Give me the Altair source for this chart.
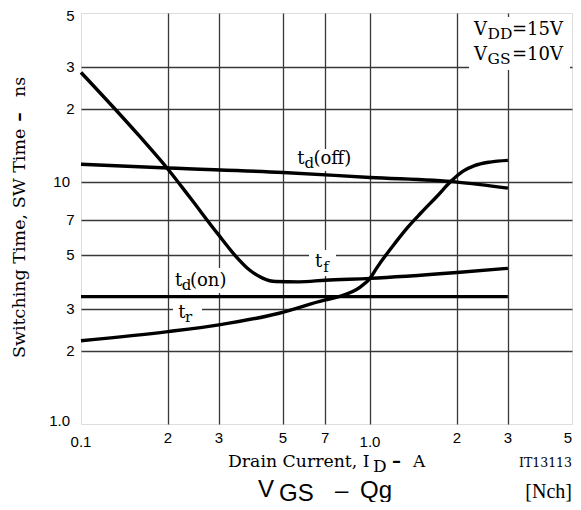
import altair as alt
import pandas as pd

# ---------------- data ----------------
id_tdoff = [0.1, 0.2, 0.5, 1.0, 2.0, 3.0]
t_tdoff = [11.85, 11.43, 10.96, 10.45, 10.0, 9.44]

id_tf = [0.1, 0.16, 0.2, 0.238, 0.297, 0.344, 0.382, 0.425, 0.472, 0.567, 0.7, 1.0, 2.0, 3.0]
t_tf = [28.4, 15.4, 11.3, 8.65, 6.12, 4.92, 4.34, 4.01, 3.88, 3.87, 3.93, 4.0, 4.23, 4.4]

id_tr = [0.1, 0.2, 0.3, 0.485, 0.7, 0.78, 0.925, 1.0, 1.06, 1.125, 1.22, 1.35, 1.5, 1.7,
         1.91, 2.1, 2.3, 2.6, 3.0]
t_tr = [2.21, 2.41, 2.57, 2.87, 3.26, 3.36, 3.68, 4.0, 4.45, 4.92, 5.59, 6.5, 7.45, 8.7,
        10.1, 11.1, 11.7, 12.1, 12.3]

id_tdon = [0.1, 3.0]
t_tdon = [3.36, 3.36]

x_grid = [0.2, 0.3, 0.5, 0.7, 1.0, 2.0, 3.0]
y_grid = [2, 3, 5, 7, 10, 20, 30]

x_tick_vals = [0.1, 0.2, 0.3, 0.5, 0.7, 1.0, 2.0, 3.0, 5.0]
x_tick_labels = ["0.1", "2", "3", "5", "7", "1.0", "2", "3", "5"]
y_tick_vals = [1, 2, 3, 5, 7, 10, 20, 30, 50]
y_tick_labels = ["1.0", "2", "3", "5", "7", "10", "2", "3", "5"]

# ---------------- layout constants ----------------
OX, OY = 81, 13          # page position of plot origin
W, H = 491, 411
SERIF = "DejaVu Serif"
TIMES = "Liberation Serif"
SANS = "Liberation Sans"

frames = []
for name, xs_, ys_ in [("td(off)", id_tdoff, t_tdoff), ("tf", id_tf, t_tf),
                       ("tr", id_tr, t_tr), ("td(on)", id_tdon, t_tdon)]:
    frames.append(pd.DataFrame({"id": xs_, "t": ys_, "series": name}))
df = pd.concat(frames, ignore_index=True)

xscale = alt.Scale(type="log", domain=[0.1, 5], nice=False)
yscale = alt.Scale(type="log", domain=[1, 50], nice=False)
xaxis = alt.Axis(values=x_grid, grid=True, labels=False, ticks=False, domain=False,
                 title=None, gridColor="#383838", gridWidth=1.3, gridOpacity=1)
yaxis = alt.Axis(values=y_grid, grid=True, labels=False, ticks=False, domain=False,
                 title=None, gridColor="#383838", gridWidth=1.3, gridOpacity=1)


def txt(s, px, py, size, font=SERIF, align="left", weight="normal", angle=0,
        baseline="alphabetic"):
    return alt.Chart(pd.DataFrame({"s": [s]})).mark_text(
        align=align, baseline=baseline, font=font, fontSize=size,
        fontWeight=weight, angle=angle, color="black"
    ).encode(x=alt.value(px - OX), y=alt.value(py - OY), text="s:N")


def box(x0, y0, x1, y1):
    return alt.Chart(pd.DataFrame({"a": [0]})).mark_rect(color="white").encode(
        x=alt.value(x0 - OX), x2=alt.value(x1 - OX),
        y=alt.value(y0 - OY), y2=alt.value(y1 - OY))


base_grid = alt.Chart(df).mark_line(opacity=0).encode(
    x=alt.X("id:Q", scale=xscale, axis=xaxis),
    y=alt.Y("t:Q", scale=yscale, axis=yaxis),
    detail="series:N")

boxes = [
    box(294, 149, 355, 171),   # td(off)
    box(172, 268, 231, 293),   # td(on)
    box(309, 250, 336, 276),   # tf
    box(173, 302, 202, 325),   # tr
    box(469, 17, 570, 70),     # conditions
]

curves = alt.Chart(df).mark_line(color="black", strokeWidth=3.4,
                                 interpolate="monotone", strokeCap="butt").encode(
    x=alt.X("id:Q", scale=xscale, axis=xaxis),
    y=alt.Y("t:Q", scale=yscale, axis=yaxis),
    detail="series:N")

# tick labels
xt = pd.DataFrame({"v": x_tick_vals, "lab": x_tick_labels})
xt_dec = xt[xt["lab"].str.contains(r"\.")]
xt_int = xt[~xt["lab"].str.contains(r"\.") & (xt["v"] < 5)]
xt_end = xt[xt["v"] >= 5]


def xlabels(d, py, align="center"):
    return alt.Chart(d).mark_text(font=SANS, fontSize=15, align=align,
                                  baseline="alphabetic", color="black").encode(
        x=alt.X("v:Q", scale=xscale, axis=xaxis), y=alt.value(py - OY), text="lab:N")


yt = pd.DataFrame({"v": y_tick_vals, "lab": y_tick_labels})


def ylabels(d, px, dy=0):
    return alt.Chart(d).mark_text(font=SANS, fontSize=15, align="right",
                                  baseline="middle", dy=dy, color="black").encode(
        y=alt.Y("v:Q", scale=yscale, axis=yaxis), x=alt.value(px - OX), text="lab:N")


tick_layers = [
    xlabels(xt_int, 442.5),
    xlabels(xt_dec, 446.5),
    xlabels(xt_end, 442.5, align="right"),
    ylabels(yt[(yt["lab"].str.len() == 1) & (yt["v"] < 50)], 74.5),
    ylabels(yt[yt["v"] >= 50], 74.5, dy=3),
    ylabels(yt[yt["lab"] == "10"], 70),
    ylabels(yt[yt["lab"] == "1.0"], 70, dy=-3.5),
]

texts = [
    # curve labels
    txt("t", 297.3, 164, 18), txt("d", 304.5, 168, 15), txt("(off)", 313.5, 164, 18),
    txt("t", 175, 286, 18), txt("d", 181.7, 290, 15), txt("(on)", 190, 286, 18),
    txt("t", 315, 266.5, 18), txt("f", 323.3, 271.5, 15),
    txt("t", 178.3, 318.3, 18), txt("r", 185, 321.7, 15),
    # conditions
    txt("V", 474, 35, 18), txt("DD", 487.5, 38.5, 15.5), txt("=15V", 512, 35, 18),
    txt("V", 474, 60, 18), txt("GS", 487.5, 63.5, 15.5), txt("=10V", 512, 60, 18),
    # x title
    txt("Drain Current, I", 228, 466.7, 17.3), txt("D", 373, 472, 17),
    txt("–", 392, 466.7, 18, weight="bold"), txt("A", 413, 466.7, 17),
    txt("IT13113", 572, 466.5, 12.5, align="right"),
    # y title
    txt("Switching Time, SW Time", 25, 358, 17.5, angle=270),
    txt("–", 25, 117, 19, align="center", weight="bold", angle=270),
    txt("ns", 25, 97, 17.5, angle=270),
    # top title (cut off at the top of the page, as in the reference)
    txt("SW Time  –  I", 238, 3, 24, font=SANS), txt("D", 400, 7, 24, font=SANS),
    txt("[Nch]", 572, 3, 20, font=TIMES, align="right"),
    # next chart title
    txt("V", 258, 496.5, 24, font=SANS), txt("GS", 279, 500.5, 24, font=SANS),
    txt("–", 335, 497.5, 24, font=SANS), txt("Qg", 360, 498, 24, font=SANS),
    txt("[Nch]", 572, 497.5, 20, font=TIMES, align="right"),
]

chart = alt.layer(
    base_grid, *boxes, curves, *tick_layers, *texts
).properties(
    width=W, height=H,
    padding={"left": 73, "top": 5, "right": 1, "bottom": 78},
    autosize=alt.AutoSizeParams(type="none"),
).configure_view(
    stroke="black", strokeWidth=2
).configure(background="white")

chart.save("out.html", embed_options={"renderer": "svg", "actions": False})
